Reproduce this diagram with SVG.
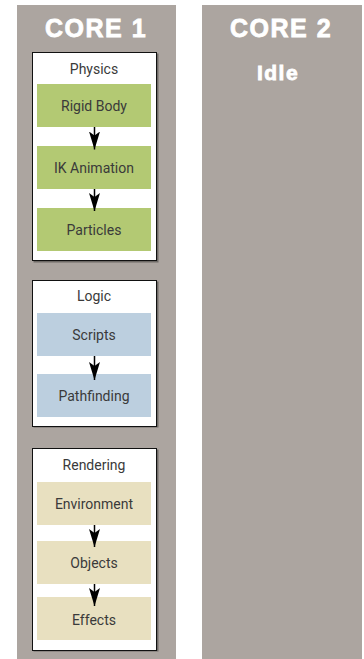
<svg xmlns="http://www.w3.org/2000/svg" width="364" height="659" viewBox="0 0 364 659">
<style>
.col{fill:#aca5a0}
.core{font-family:"Liberation Sans",Arial,sans-serif;font-weight:bold;fill:#fff;stroke:#fff;stroke-width:0.8;text-anchor:middle}
.grp{fill:#fff;stroke:#111;stroke-width:1}
.shadow{fill:#6e6a66}
.lbl{font-family:Roboto,"DejaVu Sans",sans-serif;font-size:14px;fill:#3a3a3a;text-anchor:middle}
.phys{fill:#b3c973}
.logic{fill:#bccfdf}
.rend{fill:#e8e0c0}
.conn line{stroke:#000;stroke-width:1.5;marker-end:url(#ah)}
</style>
<defs>
<marker id="ah" markerUnits="userSpaceOnUse" viewBox="0 0 18 12" refX="18" refY="6" markerWidth="18" markerHeight="12" orient="auto">
<path d="M0,0.5 L18,6 L0,11.5 L4,6 z" fill="#000"/>
</marker>
</defs>
<g id="core1">
<rect class="col" x="17" y="5" width="159" height="654"/>
<text class="core" x="96" y="37" font-size="25" letter-spacing="1.5">CORE 1</text>
</g>
<g id="core2">
<rect class="col" x="202" y="5" width="160" height="654"/>
<text class="core" x="281" y="37" font-size="25" letter-spacing="1.5">CORE 2</text>
<text class="core" x="278" y="80" font-size="21" letter-spacing="1.5">Idle</text>
</g>
<g id="physics">
<rect class="shadow" x="33.5" y="53.5" width="125" height="209"/>
<rect class="grp" x="32.5" y="52.5" width="124" height="208"/>
<text class="lbl" x="94" y="74">Physics</text>
</g>
<g id="rigid-body"><rect class="phys" x="37" y="84" width="114" height="43"/><text class="lbl" x="94" y="111">Rigid Body</text></g>
<g id="ik-animation"><rect class="phys" x="37" y="146" width="114" height="43"/><text class="lbl" x="94" y="173">IK Animation</text></g>
<g id="particles"><rect class="phys" x="37" y="208" width="114" height="43"/><text class="lbl" x="94" y="235">Particles</text></g>
<g id="logic">
<rect class="shadow" x="33.5" y="281.5" width="125" height="146"/>
<rect class="grp" x="32.5" y="280.5" width="124" height="146"/>
<text class="lbl" x="94" y="301">Logic</text>
</g>
<g id="scripts"><rect class="logic" x="37" y="313" width="114" height="43"/><text class="lbl" x="94" y="340">Scripts</text></g>
<g id="pathfinding"><rect class="logic" x="37" y="374" width="114" height="43"/><text class="lbl" x="94" y="401">Pathfinding</text></g>
<g id="rendering">
<rect class="shadow" x="33.5" y="449.5" width="125" height="202"/>
<rect class="grp" x="32.5" y="448.5" width="124" height="202"/>
<text class="lbl" x="94" y="470">Rendering</text>
</g>
<g id="environment"><rect class="rend" x="37" y="482" width="114" height="43"/><text class="lbl" x="94" y="509">Environment</text></g>
<g id="objects"><rect class="rend" x="37" y="541" width="114" height="43"/><text class="lbl" x="94" y="568">Objects</text></g>
<g id="effects"><rect class="rend" x="37" y="597" width="114" height="43"/><text class="lbl" x="94" y="625">Effects</text></g>
<g id="connectors" class="conn">
<line x1="94.5" y1="127" x2="94.5" y2="149.5"/>
<line x1="94.5" y1="189" x2="94.5" y2="211"/>
<line x1="94.5" y1="356" x2="94.5" y2="380"/>
<line x1="94.5" y1="525" x2="94.5" y2="547"/>
<line x1="94.5" y1="584" x2="94.5" y2="606"/>
</g>
</svg>
